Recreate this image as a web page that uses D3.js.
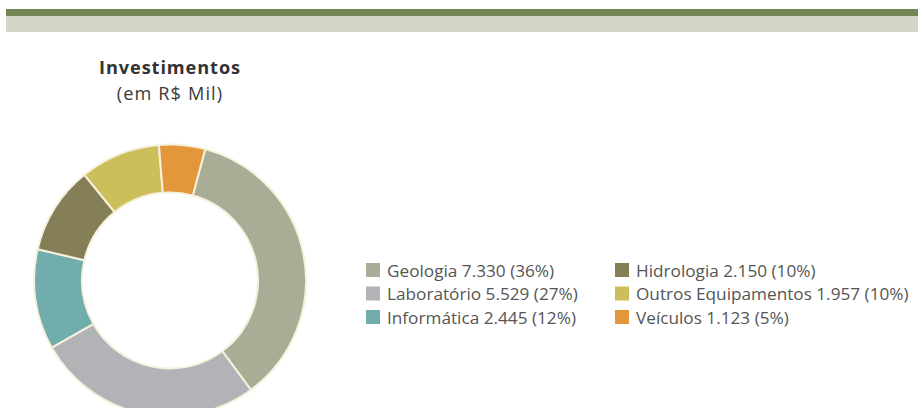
<!DOCTYPE html>
<html>
<head>
<meta charset="utf-8">
<script src="https://cdn.jsdelivr.net/npm/d3@7"></script>
<style>
  html, body { margin: 0; padding: 0; background: #ffffff; }
  svg { display: block; }
</style>
</head>
<body>
<script>
// Investment breakdown (R$ thousand)
const categories = ["Geologia", "Laboratório", "Informática", "Hidrologia", "Outros Equipamentos", "Veículos"];
const values = [7330, 5529, 2445, 2150, 1957, 1123];
const percentLabels = ["36%", "27%", "12%", "10%", "10%", "5%"];
const valueLabels = ["7.330", "5.529", "2.445", "2.150", "1.957", "1.123"];
const colors = ["#a9ad96", "#b2b3b7", "#70adac", "#857f58", "#cdbe5c", "#e4963a"];
const titleLines = ["Investimentos", "(em R$ Mil)"];

const W = 918, H = 408;
const svg = d3.select("body").append("svg").attr("width", W).attr("height", H);

// header bands
svg.append("rect").attr("x", 6).attr("y", 9).attr("width", W - 6).attr("height", 7).attr("fill", "#748656");
svg.append("rect").attr("x", 6).attr("y", 16).attr("width", W - 6).attr("height", 16).attr("fill", "#d5d6c8");

const cx = 170, cy = 280.5, rOuter = 136, rInner = 88;
const font = "'Open Sans', 'Noto Sans', sans-serif";

// title, two lines centred over the donut
svg.append("text").attr("x", cx).attr("y", 74).attr("text-anchor", "middle")
  .attr("font-family", font).attr("font-weight", 700).attr("font-size", 18.2)
  .attr("letter-spacing", 0.9)
  .attr("fill", "#333333").text(titleLines[0]);
svg.append("text").attr("x", cx).attr("y", 99.5).attr("text-anchor", "middle")
  .attr("font-family", font).attr("font-size", 18.2)
  .attr("letter-spacing", 1.1)
  .attr("fill", "#3a3a3a").text(titleLines[1]);

// donut
const start = 15 * Math.PI / 180;
const pie = d3.pie().sort(null).value(d => d).startAngle(start).endAngle(start + 2 * Math.PI);
const arc = d3.arc().innerRadius(rInner).outerRadius(rOuter);
svg.append("g").attr("transform", `translate(${cx},${cy})`)
  .selectAll("path").data(pie(values)).join("path")
  .attr("d", arc)
  .attr("fill", (d, i) => colors[i])
  .attr("stroke", "#f6f1dd").attr("stroke-width", 2);

// legend: two columns of three rows
const colX = [366, 615];
const rowY = [263, 286.5, 310];
const legend = svg.append("g");
categories.forEach((c, i) => {
  const col = Math.floor(i / 3), row = i % 3;
  const g = legend.append("g").attr("transform", `translate(${colX[col]},${rowY[row]})`);
  g.append("rect").attr("width", 14).attr("height", 14).attr("fill", colors[i]);
  g.append("text").attr("x", 21).attr("y", 13.5)
    .attr("font-family", font).attr("font-size", 17.2).attr("fill", "#555555")
    .text(`${c} ${valueLabels[i]} (${percentLabels[i]})`);
});
</script>
</body>
</html>
